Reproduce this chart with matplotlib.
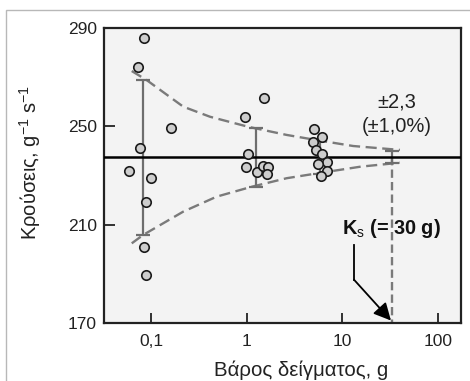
import matplotlib
matplotlib.use("Agg")
import matplotlib.pyplot as plt
from matplotlib.patches import Rectangle
from matplotlib.ticker import FixedLocator, FixedFormatter, NullLocator

plt.rcParams['font.family'] = ['Liberation Sans', 'DejaVu Sans']
plt.rcParams['mathtext.fontset'] = 'custom'
plt.rcParams['mathtext.rm'] = 'Liberation Sans'
plt.rcParams['mathtext.it'] = 'Liberation Sans'
plt.rcParams['mathtext.bf'] = 'Liberation Sans:bold'
plt.rcParams['lines.scale_dashes'] = False

# ---- data ----
sample_mass = [0.084, 0.072, 0.161, 0.077, 0.059, 0.100, 0.087, 0.083, 0.087,
               1.50, 0.95, 1.03, 0.985, 1.28, 1.48, 1.67, 1.61,
               5.07, 6.2, 4.99, 5.28, 6.2, 7.0, 5.63, 7.0, 5.95]
sample_counts = [285.8, 274.3, 249.4, 241.2, 231.7, 229.1, 219.2, 200.8, 189.6,
                 261.4, 253.7, 238.7, 233.3, 231.3, 234.0, 233.3, 230.5,
                 248.9, 245.8, 243.8, 240.4, 238.7, 235.6, 234.7, 231.8, 229.8]

mean_counts = 237.5
bar_mass = [0.081, 1.24, 5.85, 33.0]
bar_half = [31.5, 12.0, 6.8, 2.5]

env_mass_up = [0.0624, 0.0895, 0.216, 0.412, 1.04, 2.62, 5.4, 13.0, 40.2]
env_upper = [272.5, 268.8, 258.0, 253.9, 249.8, 246.5, 244.4, 242.0, 240.4]
env_mass_lo = [0.0624, 0.082, 0.216, 0.484, 1.12, 2.62, 5.96, 15.6, 40.2]
env_lower = [202.4, 205.8, 215.3, 221.4, 225.4, 228.9, 231.1, 233.6, 235.2]

ks_mass = 33.0
x_ticks = [0.1, 1, 10, 100]
x_ticklabels = ['0,1', '1', '10', '100']
y_ticks = [170, 210, 250, 290]

# ---- figure ----
fig = plt.figure(figsize=(4.70, 3.81), dpi=100)
fig.patch.set_facecolor('white')
fig.patches.append(Rectangle((6 / 470, -0.1), 1.2, 1 - 10 / 381 + 0.1,
                             fill=False, ec='#b8b8b8', lw=1.0,
                             transform=fig.transFigure, figure=fig))

ax = fig.add_axes([104 / 470, 1 - 323 / 381, 357 / 470, 295 / 381])
ax.set_facecolor('#f3f3f3')
ax.set_xscale('log')
ax.set_xlim(0.03196, 175.4)
ax.set_ylim(170, 290)

dash_col = '#7a7a7a'
ax.plot(env_mass_up, env_upper, color=dash_col, lw=1.7, dashes=(8, 4), zorder=2)
ax.plot(env_mass_lo, env_lower, color=dash_col, lw=1.7, dashes=(8, 4), zorder=2)
ax.plot([ks_mass, ks_mass], [mean_counts, 170], color=dash_col, lw=1.7,
        dashes=(6, 3), zorder=2)

ax.errorbar(bar_mass, [mean_counts] * len(bar_mass), yerr=bar_half, fmt='none',
            ecolor='#6e6e6e', elinewidth=1.6, capsize=5, capthick=1.6, zorder=3)

ax.axhline(mean_counts, color='black', lw=1.8, zorder=4)

ax.plot(sample_mass, sample_counts, linestyle='none', marker='o', ms=6.8,
        mfc='#cdcdcd', mec='#1a1a1a', mew=1.2, zorder=5)

# annotations
ax.text(37, 260.1, '±2,3', ha='center', va='center', fontsize=14.5, color='#222222')
ax.text(37, 249.9, '(±1,0%)', ha='center', va='center', fontsize=14.5, color='#222222')
ax.text(ks_mass, 208.6, r'K$_{\mathrm{s}}$ (= 30 g)', ha='center', va='center',
        fontsize=14.3, fontweight='bold', color='#111111', zorder=6)
ax.plot([13.3, 13.3], [201.7, 187.5], color='black', lw=1.3, zorder=6)
ax.annotate('', xy=(32.4, 171.0), xytext=(13.3, 187.6),
            arrowprops=dict(arrowstyle='-|>', mutation_scale=26, lw=1.3,
                            color='black', shrinkA=0, shrinkB=0), zorder=6)

# axes styling
for sp in ax.spines.values():
    sp.set_linewidth(1.6)
    sp.set_color('#222222')
ax.xaxis.set_major_locator(FixedLocator(x_ticks))
ax.xaxis.set_major_formatter(FixedFormatter(x_ticklabels))
ax.xaxis.set_minor_locator(NullLocator())
ax.set_yticks(y_ticks)
ax.tick_params(axis='x', direction='in', length=7, width=1.3, pad=8,
               labelsize=12.5, colors='#222222')
ax.tick_params(axis='y', direction='in', length=8, width=1.3, pad=5,
               labelsize=12.5, colors='#222222')

fig.text(301 / 470, 1 - 370 / 381, 'Βάρος δείγματος, g', ha='center', va='center',
         fontsize=14.7, color='#222222')
fig.text(30 / 470, 1 - 162 / 381, r'Κρούσεις, g$^{-1}$ s$^{-1}$', ha='center',
         va='center', rotation=90, fontsize=14.5, color='#222222')

fig.savefig('out.png', dpi=100)
